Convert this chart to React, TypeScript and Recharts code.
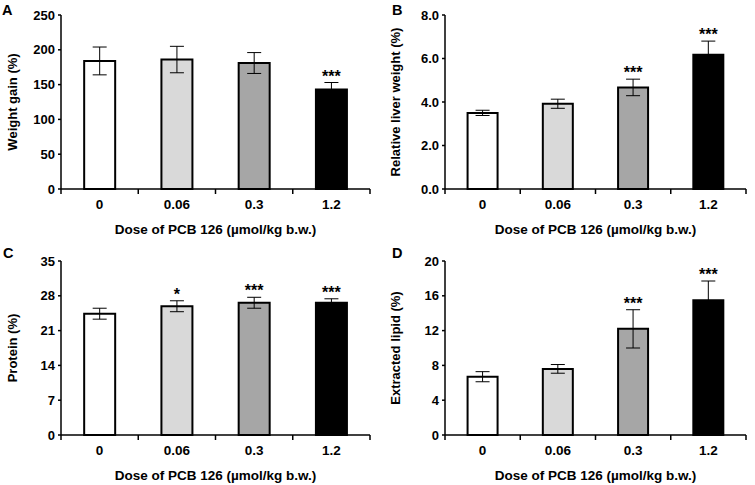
import { BarChart, Bar, XAxis, YAxis, Cell, ErrorBar, LabelList } from 'recharts'

const doses = ['0', '0.06', '0.3', '1.2']
const barFills = ['#ffffff', '#d9d9d9', '#a6a6a6', '#000000']

const weightGain = [184, 186, 181, 143]
const weightGainErr = [20, 19, 15, 10]
const weightGainSig = ['', '', '', '***']
const weightGainTicks = [0, 50, 100, 150, 200, 250]

const liverWeight = [3.5, 3.92, 4.67, 6.17]
const liverWeightErr = [0.12, 0.21, 0.38, 0.63]
const liverWeightSig = ['', '', '***', '***']
const liverWeightTicks = [0, 2, 4, 6, 8]

const protein = [24.4, 25.9, 26.6, 26.6]
const proteinErr = [1.1, 1.1, 1.1, 0.8]
const proteinSig = ['', '*', '***', '***']
const proteinTicks = [0, 7, 14, 21, 28, 35]

const lipid = [6.7, 7.6, 12.2, 15.5]
const lipidErr = [0.58, 0.5, 2.2, 2.2]
const lipidSig = ['', '', '***', '***']
const lipidTicks = [0, 4, 8, 12, 16, 20]

const FONT = '"Liberation Sans", Arial, sans-serif'
const TICK_SIZE = 5
const TICK_MARGIN = 5

type Row = { dose: string; value: number; err: number; sig: string }

function makeRows(values: number[], errs: number[], sigs: string[]): Row[] {
  return doses.map((dose, i) => ({ dose, value: values[i], err: errs[i], sig: sigs[i] }))
}

// x ticks sit on the category boundaries, labels in the middle
function DoseTick(props: any) {
  const { x, y, payload, index } = props
  const half = payload?.offset ?? 0
  const axisY = y - TICK_SIZE - TICK_MARGIN
  return (
    <g>
      <line x1={x - half} x2={x - half} y1={axisY} y2={axisY + TICK_SIZE} stroke="#000" strokeWidth={1.5} />
      {index === doses.length - 1 && (
        <line x1={x + half} x2={x + half} y1={axisY} y2={axisY + TICK_SIZE} stroke="#000" strokeWidth={1.5} />
      )}
      <text x={x} y={y} dy="0.71em" textAnchor="middle" fontSize={13.5} fontWeight="bold" fill="#000">
        {payload.value}
      </text>
    </g>
  )
}

function starsLabel(rows: Row[]) {
  return (props: any) => {
    const vb = props.viewBox ?? props
    const { x, y, width, height } = vb
    const row = rows[props.index]
    if (!row || !row.sig) return null
    const errTop = y - (row.err * height) / row.value
    return (
      <text x={x + width / 2} y={errTop - 1} textAnchor="middle" fontSize={16} fontWeight="bold" fill="#000">
        {row.sig}
      </text>
    )
  }
}

interface PanelProps {
  letter: string
  yLabel: string
  rows: Row[]
  ticks: number[]
  fmt?: (v: number) => string
  left: number
  top: number
  width: number
  height: number
  plotTop: number
  plotBottom: number
  plotLeft: number
  plotRight: number
  yLabelX: number
}

function Panel(p: PanelProps) {
  const domain: [number, number] = [p.ticks[0], p.ticks[p.ticks.length - 1]]
  const xAxisH = p.height - p.plotBottom
  return (
    <div style={{ position: 'absolute', left: p.left, top: p.top, width: p.width, height: p.height }}>
      <BarChart
        width={p.width}
        height={p.height}
        data={p.rows}
        margin={{ top: p.plotTop, right: p.width - p.plotRight, bottom: 0, left: 0 }}
        barCategoryGap="30%"
      >
        <XAxis
          dataKey="dose"
          height={xAxisH}
          axisLine={{ stroke: '#000', strokeWidth: 1.5 }}
          tickLine={false}
          tickSize={TICK_SIZE}
          tickMargin={TICK_MARGIN}
          tick={<DoseTick />}
          interval={0}
          label={{
            value: 'Dose of PCB 126 (µmol/kg b.w.)',
            position: 'insideBottom',
            offset: xAxisH - 44.8,
            style: { fontSize: 13.5, fontWeight: 'bold', fill: '#000' },
          }}
        />
        <XAxis xAxisId="top" dataKey="dose" orientation="top" height={0} tick={false} tickLine={false} axisLine={{ stroke: '#000', strokeWidth: 1.5 }} />
        <YAxis
          width={p.plotLeft}
          domain={domain}
          ticks={p.ticks}
          interval={0}
          tickFormatter={p.fmt}
          axisLine={{ stroke: '#000', strokeWidth: 1.5 }}
          tickLine={{ stroke: '#000', strokeWidth: 1.5 }}
          tickSize={3}
          tickMargin={3}
          tick={{ fontSize: 13, fontWeight: 'bold', fill: '#000' }}
          label={{
            value: p.yLabel,
            angle: -90,
            position: 'insideLeft',
            offset: p.yLabelX,
            style: { fontSize: 13, fontWeight: 'bold', fill: '#000', textAnchor: 'middle' },
          }}
        />
        <YAxis yAxisId="right" orientation="right" width={0} domain={domain} tick={false} tickLine={false} axisLine={{ stroke: '#000', strokeWidth: 1.5 }} />
        <Bar dataKey="value" stroke="#000" strokeWidth={2} isAnimationActive={false}>
          {p.rows.map((r, i) => (
            <Cell key={r.dose} fill={barFills[i]} />
          ))}
          <ErrorBar dataKey="err" width={7} stroke="#000" strokeWidth={1} direction="y" />
          <LabelList dataKey="sig" content={starsLabel(p.rows)} />
        </Bar>
      </BarChart>
      <div
        style={{
          position: 'absolute',
          left: p.letter === 'A' ? 2 : p.letter === 'C' ? 3 : 15,
          top: p.letter === 'A' || p.letter === 'B' ? 3 : 4,
          fontSize: 14.5,
          lineHeight: '14px',
          fontWeight: 'bold',
        }}
      >
        {p.letter}
      </div>
    </div>
  )
}

export default function App() {
  const fmt1 = (v: number) => v.toFixed(1)
  return (
    <div
      style={{ position: 'absolute', left: 0, top: 0, width: 755, height: 485, background: '#fff', fontFamily: FONT }}
    >
      <Panel
        letter="A"
        yLabel="Weight gain (%)"
        rows={makeRows(weightGain, weightGainErr, weightGainSig)}
        ticks={weightGainTicks}
        left={0}
        top={0}
        width={377}
        height={242}
        plotTop={15}
        plotBottom={189}
        plotLeft={61}
        plotRight={370}
        yLabelX={12}
      />
      <Panel
        letter="B"
        yLabel="Relative liver weight (%)"
        rows={makeRows(liverWeight, liverWeightErr, liverWeightSig)}
        ticks={liverWeightTicks}
        fmt={fmt1}
        left={377}
        top={0}
        width={378}
        height={242}
        plotTop={15}
        plotBottom={189}
        plotLeft={68}
        plotRight={369}
        yLabelX={18}
      />
      <Panel
        letter="C"
        yLabel="Protein (%)"
        rows={makeRows(protein, proteinErr, proteinSig)}
        ticks={proteinTicks}
        left={0}
        top={242}
        width={377}
        height={243}
        plotTop={19}
        plotBottom={193}
        plotLeft={61}
        plotRight={370}
        yLabelX={12}
      />
      <Panel
        letter="D"
        yLabel="Extracted lipid (%)"
        rows={makeRows(lipid, lipidErr, lipidSig)}
        ticks={lipidTicks}
        left={377}
        top={242}
        width={378}
        height={243}
        plotTop={19}
        plotBottom={193}
        plotLeft={68}
        plotRight={369}
        yLabelX={18}
      />
    </div>
  )
}
